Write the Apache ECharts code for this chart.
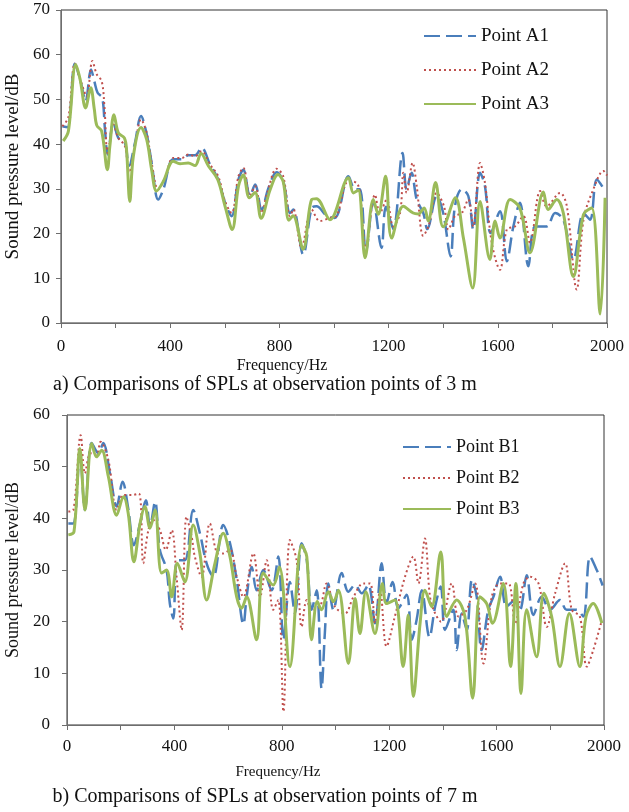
<!DOCTYPE html>
<html>
<head>
<meta charset="utf-8">
<script src="https://cdn.jsdelivr.net/npm/echarts@6/dist/echarts.min.js"></script>
<style>
  html, body { margin: 0; padding: 0; background: #fff; }
  #container { width: 629px; height: 812px; }
</style>
</head>
<body>
<div id="container"></div>
<script>
// [frequency Hz, SPL dB]
const pointA1 = [[5,44],[24,43.8],[51,58],[73,53.7],[90,49.6],[110,56.7],[122,54.1],[134,51.5],[151,50.4],[161,43.3],[171,37.7],[192,44.8],[210,41.4],[234,40.3],[249,35.1],[271,40.3],[293,46.3],[314,42.2],[332,35.8],[356,27.6],[375,29.9],[411,36.6],[442,36.6],[466,37.5],[491,37.5],[515,39.2],[546,35.4],[576,32.1],[601,26.9],[625,23.9],[650,32.1],[668,34.3],[692,28.4],[711,31],[735,25.4],[760,30.2],[790,33.7],[814,31.7],[839,24.6],[851,25.4],[887,15.3],[918,25.7],[936,26.1],[973,24],[1003,23.5],[1053,32.8],[1077,29.9],[1095,29.9],[1117,15.7],[1144,27.2],[1174,16.8],[1190,26],[1217,21],[1251,38],[1266,29.9],[1284,33.6],[1303,27.6],[1327,24.6],[1342,21],[1376,28.4],[1400,24.6],[1427,14.9],[1443,26.1],[1468,29.9],[1492,28.4],[1510,20.9],[1535,33.6],[1553,30.6],[1574,20.1],[1608,25],[1633,13.8],[1657,21.6],[1681,26.9],[1712,12.7],[1737,21.6],[1779,21.6],[1810,24.6],[1840,23.1],[1877,14.2],[1914,24.6],[1938,23.1],[1963,32.1],[1993,29.5]];
const pointA2 = [[5,44],[27,46],[51,58],[73,54],[94,50.7],[115,58.6],[131,55.6],[149,54.1],[159,48.5],[171,38],[192,44.4],[210,41.4],[234,39.6],[249,33.6],[271,39.6],[293,45.5],[314,42.5],[332,35.8],[356,29.9],[381,32.5],[411,36.9],[442,36.9],[466,37.7],[491,37.3],[515,38.4],[546,35.4],[576,32.8],[601,27.2],[625,24.6],[650,32.8],[668,34.7],[692,28.4],[711,30.6],[735,24.6],[754,28.7],[790,34.5],[814,32.8],[839,23.9],[851,25.4],[881,16.8],[918,25.4],[948,22.8],[985,23.5],[1009,23.9],[1053,31.7],[1083,31.3],[1095,29.1],[1117,16.8],[1150,28.7],[1168,24.6],[1193,27.6],[1217,21.6],[1242,24.6],[1254,33.6],[1266,29.1],[1288,35.8],[1303,30.6],[1327,19.5],[1348,22],[1376,29.1],[1403,26.1],[1419,20.9],[1443,23.9],[1468,24.6],[1492,27.6],[1510,21.6],[1535,35.8],[1553,31.3],[1578,17.9],[1608,11.9],[1633,20.9],[1663,21.6],[1694,23.9],[1718,17.9],[1755,29.5],[1779,26.1],[1828,29.1],[1853,26.1],[1889,7.5],[1914,23.1],[1950,29.9],[1987,34],[2000,33]];
const pointA3 = [[8,40.7],[27,42.9],[54,57.8],[70,54.5],[90,48.1],[109,52.6],[122,47.8],[131,44.2],[149,42.9],[170,34.3],[179,39.6],[194,46.6],[210,42.5],[232,41.4],[240,38.8],[252,27.2],[265,37.3],[293,43.7],[314,41],[332,34.3],[350,29.5],[375,31.7],[411,36.2],[436,35.6],[466,35.8],[491,35.2],[513,37.9],[540,35.1],[574,32.1],[601,26.1],[627,20.9],[650,30.6],[668,33.1],[690,28],[711,29.2],[733,23.4],[766,29.8],[795,33.2],[814,31.6],[835,23],[850,24],[887,16.5],[918,27.6],[936,27.8],[985,23.1],[1053,32.5],[1071,29.1],[1089,29.7],[1114,14.6],[1144,27.6],[1162,24.3],[1189,32.8],[1211,19],[1254,26.1],[1290,24.6],[1309,24.4],[1330,25.7],[1345,22.8],[1372,31.4],[1400,21.5],[1445,28],[1474,19],[1508,7.8],[1535,27.2],[1571,14.2],[1590,22.8],[1608,19],[1645,27.6],[1681,25.7],[1718,15.7],[1767,29.3],[1785,25.4],[1816,27.6],[1840,24.6],[1877,10.4],[1914,24.3],[1944,25.7],[1975,2],[1993,28]];

const pointB1 = [[5,39],[24,39],[48,52.6],[67,41.6],[92,54.6],[117,52.6],[135,54.6],[160,48.7],[185,42.3],[207,47.1],[228,41.9],[249,34.8],[272,39],[294,43.5],[309,38.4],[328,43.2],[346,33.9],[371,30],[383,23.5],[396,20.6],[411,31.9],[439,31.9],[470,41.6],[495,37.1],[520,31.3],[545,28.7],[582,38.7],[607,35.2],[632,28.1],[657,19.5],[669,24.8],[688,30.6],[706,26.1],[731,30],[762,26.1],[787,32.6],[806,16.5],[830,27.7],[849,21.6],[874,35.2],[893,31.9],[911,22.3],[930,26.1],[948,7.1],[961,18.4],[973,27.4],[992,22.3],[1023,29.4],[1048,25.8],[1073,27.1],[1098,25.5],[1122,27.1],[1147,19.7],[1172,31.3],[1190,23.5],[1213,27.7],[1234,22.6],[1265,25.2],[1284,16.5],[1302,20.3],[1321,26.1],[1350,17],[1371,22.9],[1392,26.8],[1408,18.4],[1439,22.3],[1451,14.5],[1470,21.6],[1489,18.4],[1508,28.1],[1526,24.8],[1544,14.5],[1569,22.3],[1588,24.8],[1613,28.7],[1637,22.9],[1669,24.2],[1687,22.3],[1712,29],[1737,21.3],[1768,24.8],[1799,22.3],[1836,24.2],[1861,22.3],[1898,22.3],[1923,21],[1948,32.6],[1973,30],[1995,27]];
const pointB2 = [[5,41.3],[24,41.6],[51,56.1],[67,48.7],[88,52.6],[110,52.3],[125,54.8],[154,51.3],[185,41.6],[210,44.5],[241,44.5],[268,44.8],[284,31.3],[303,37.7],[321,39.7],[346,37.7],[368,33.9],[390,37.7],[408,28.7],[427,18.4],[445,40.3],[464,36.5],[476,32.6],[501,28.7],[532,39],[563,33.2],[582,33.2],[607,33.9],[632,28.7],[657,24.8],[694,33.2],[719,24.8],[744,31.9],[768,22.3],[787,24.2],[806,2.6],[830,35.8],[855,31.9],[874,19],[893,24.2],[911,22.3],[942,22.9],[967,27.4],[998,22.9],[1035,21.6],[1067,24.8],[1104,27.4],[1129,27.4],[1147,19.7],[1166,26.1],[1190,15.2],[1221,21],[1259,28.7],[1290,32.6],[1309,27.4],[1333,36.1],[1352,24.8],[1371,21.6],[1393,20],[1433,27.4],[1458,21],[1489,22.3],[1520,27.4],[1551,11.9],[1582,24.8],[1613,27.4],[1644,27.4],[1669,19.7],[1700,27.4],[1725,28.7],[1756,27.4],[1787,19],[1818,25.5],[1855,31.3],[1880,22.3],[1910,21],[1936,11.3],[1960,14.5],[1992,20.3]];
const pointB3 = [[5,36.8],[26,37.4],[48,53.5],[67,41.6],[92,54.5],[110,51.9],[129,53.2],[154,48.1],[185,40.6],[210,44.2],[228,41],[249,31.6],[272,39],[290,42.3],[309,38.1],[328,41.6],[352,29.4],[371,30],[390,24.8],[411,31.3],[439,27.7],[470,38.7],[495,33.2],[520,24.2],[551,31.3],[582,37.1],[607,32.6],[632,24.8],[650,22.6],[669,24.8],[706,16.5],[731,29.4],[768,27.1],[791,30.6],[830,11.3],[874,34.8],[893,32.6],[911,16.5],[932,23.9],[948,22.3],[973,25.8],[992,23.9],[1011,26.1],[1048,11.9],[1073,24.5],[1091,17.7],[1113,25.8],[1147,17.7],[1175,27.4],[1190,23.5],[1221,24.2],[1252,11.3],[1271,21.3],[1290,5.5],[1315,19.7],[1333,26.1],[1358,22.9],[1392,33.5],[1414,21],[1451,24.2],[1482,21],[1511,5.2],[1538,24.8],[1563,23.5],[1585,19.7],[1625,27.4],[1652,11.3],[1672,27.4],[1691,6.1],[1712,22.3],[1749,13.2],[1776,25.5],[1805,21],[1836,11.3],[1871,21.6],[1910,11.3],[1933,21],[1960,23.5],[1992,19.7]];

const namesA = ["Point A1", "Point A2", "Point A3"];
const namesB = ["Point B1", "Point B2", "Point B3"];

let font = "'Liberation Serif', 'Times New Roman', serif";
let blue = "#4a7ebb";
let red = "#c0504d";
let green = "#9bbb59";

let dom = document.getElementById("container");
let myChart = echarts.init(dom, null, { renderer: "canvas" });

function xAx(gridIndex, margin) {
  return {
    gridIndex: gridIndex,
    type: "value",
    min: 0,
    max: 2000,
    interval: 200,
    axisLine: { show: true, lineStyle: { color: "#6e6e6e", width: 1 } },
    axisTick: { show: true, inside: false, length: 5, lineStyle: { color: "#6e6e6e" } },
    splitLine: { show: false },
    axisLabel: {
      margin: margin,
      color: "#111",
      fontFamily: font,
      fontSize: 17,
      showMinLabel: true,
      showMaxLabel: true,
      formatter: function (v) { return v % 400 === 0 ? String(v) : ""; },
    },
  };
}
function yAx(gridIndex, max, margin, gap, size) {
  return {
    gridIndex: gridIndex,
    type: "value",
    min: 0,
    max: max,
    interval: 10,
    name: "Sound pressure level/dB",
    nameLocation: "middle",
    nameGap: gap,
    nameRotate: 90,
    nameTextStyle: { color: "#111", fontFamily: font, fontSize: size },
    axisLine: { show: true, lineStyle: { color: "#6e6e6e", width: 1 } },
    axisTick: { show: true, inside: false, length: 5, lineStyle: { color: "#6e6e6e" } },
    splitLine: { show: false },
    axisLabel: { margin: margin, color: "#111", fontFamily: font, fontSize: 17 },
  };
}
function line(name, data, idx, kind) {
  let ls;
  if (kind === 0) ls = { color: blue, width: 2.5, type: [16, 6] };
  else if (kind === 1) ls = { color: red, width: 2, type: [2, 3] };
  else ls = { color: green, width: 3, type: "solid" };
  return {
    name: name,
    type: "line",
    xAxisIndex: idx,
    yAxisIndex: idx,
    data: data,
    smooth: 0.35,
    symbol: "none",
    showSymbol: false,
    lineStyle: ls,
    itemStyle: { color: ls.color },
    z: 2 + kind,
  };
}

let option = {
  animation: false,
  backgroundColor: "#fff",
  grid: [
    { left: 61, top: 10, width: 546, height: 313, outerBoundsMode: "none", containLabel: false, show: true, borderColor: "#333", borderWidth: 1, backgroundColor: "transparent" },
    { left: 67, top: 415, width: 537, height: 310, outerBoundsMode: "none", containLabel: false, show: true, borderColor: "#333", borderWidth: 1, backgroundColor: "transparent" },
  ],
  xAxis: [xAx(0, 15), xAx(1, 13)],
  yAxis: [yAx(0, 70, 11, 38, 19), yAx(1, 60, 17, 35, 18)],
  legend: [
    {
      data: namesA,
      orient: "vertical",
      left: 423,
      top: 26,
      padding: 0,
      itemWidth: 52,
      itemHeight: 14,
      itemGap: 14,
      itemStyle: { opacity: 0 },
      textStyle: { fontFamily: font, fontSize: 19, color: "#111", lineHeight: 20 },
    },
    {
      data: namesB,
      orient: "vertical",
      left: 402,
      top: 437,
      padding: 0,
      itemWidth: 48,
      itemHeight: 14,
      itemGap: 11,
      itemStyle: { opacity: 0 },
      textStyle: { fontFamily: font, fontSize: 18, color: "#111", lineHeight: 20 },
    },
  ],
  graphic: [
    { type: "text", x: 282, y: 366, style: { text: "Frequency/Hz", font: "16px " + font, fill: "#111", align: "center", verticalAlign: "middle" } },
    { type: "text", x: 265, y: 385, style: { text: "a) Comparisons of SPLs at observation points of 3 m", font: "20px " + font, fill: "#111", align: "center", verticalAlign: "middle" } },
    { type: "text", x: 278, y: 772, style: { text: "Frequency/Hz", font: "15px " + font, fill: "#111", align: "center", verticalAlign: "middle" } },
    { type: "text", x: 265, y: 797, style: { text: "b) Comparisons of SPLs at observation points of 7 m", font: "20px " + font, fill: "#111", align: "center", verticalAlign: "middle" } },
  ],
  series: [
    line(namesA[0], pointA1, 0, 0),
    line(namesA[1], pointA2, 0, 1),
    line(namesA[2], pointA3, 0, 2),
    line(namesB[0], pointB1, 1, 0),
    line(namesB[1], pointB2, 1, 1),
    line(namesB[2], pointB3, 1, 2),
  ],
};

if (option && typeof option === "object") {
  myChart.setOption(option);
}
window.addEventListener("resize", myChart.resize);
</script>
</body>
</html>
